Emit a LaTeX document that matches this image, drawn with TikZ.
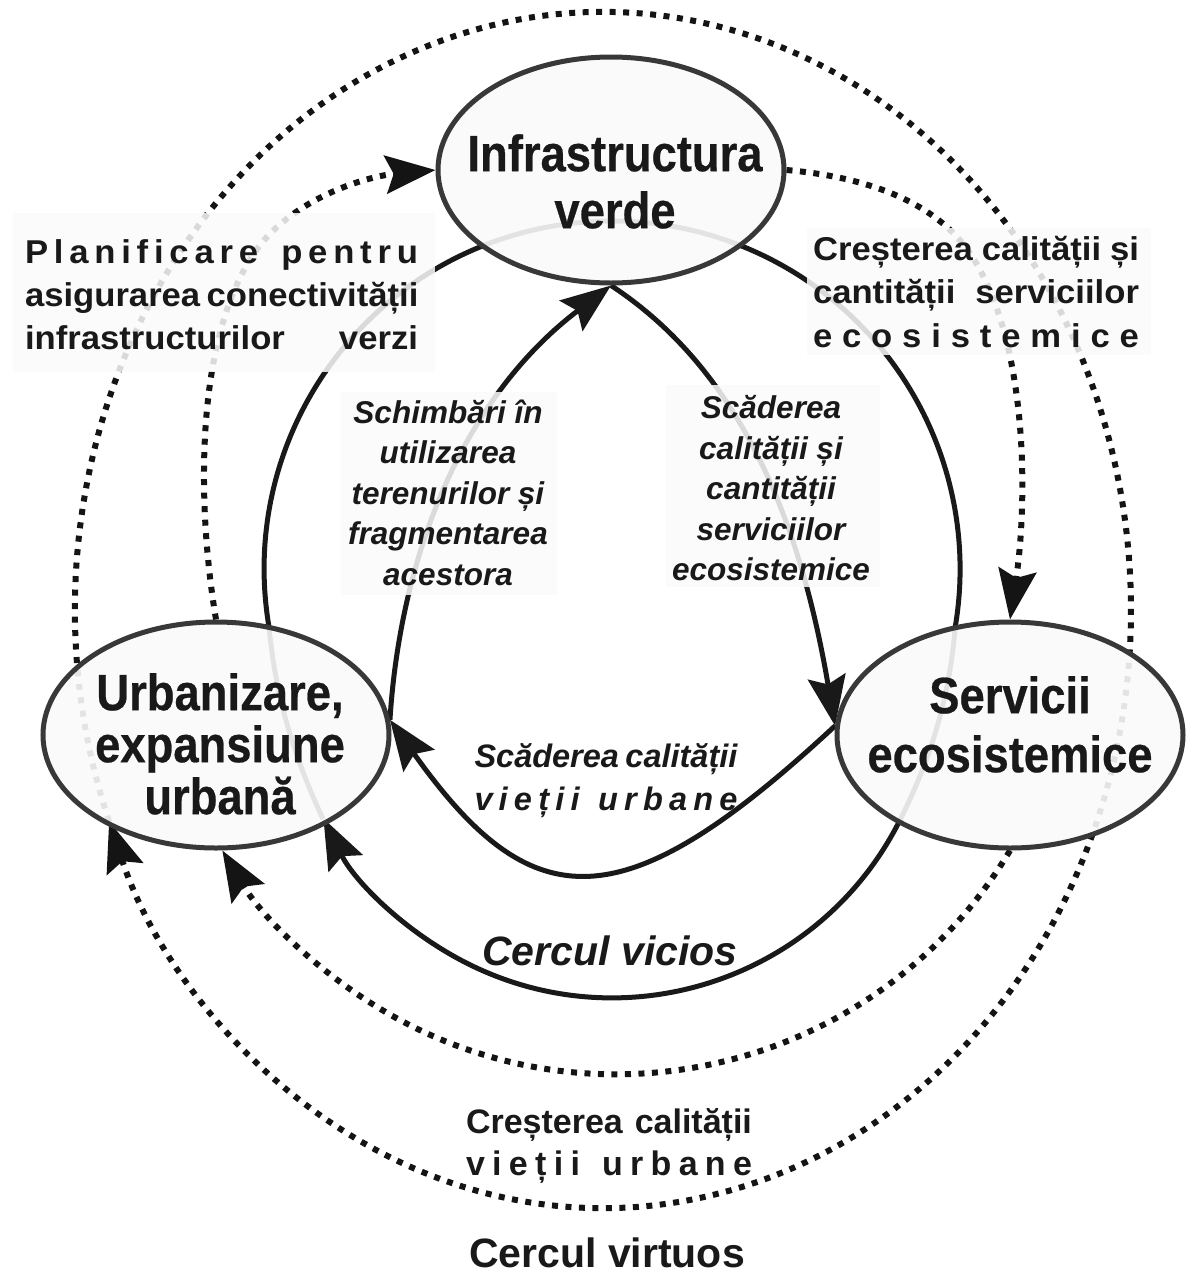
\documentclass[tikz,border=0pt]{standalone}
\usepackage{fontspec}
\setmainfont{Liberation Sans}
\newfontfamily\nodefont{Liberation Sans}[FakeStretch=0.89,FakeBold=0.5]
\newfontfamily\lblfont{Liberation Sans}[FakeStretch=1.05]
\usetikzlibrary{arrows.meta,shapes.geometric,calc}
\pgfdeclarelayer{bg}
\pgfsetlayers{bg,main}
\tikzset{
  nodeell/.style={ellipse, draw=black!78, line width=5pt, fill=black!2, fill opacity=0.9, draw opacity=1, minimum width=346pt, minimum height=226pt, inner sep=0pt},
  nodetext/.style={anchor=north, inner sep=0pt, align=center, text=black!90, font=\nodefont\bfseries\fontsize{51}{57}\selectfont},
  lblbox/.style={fill=black!2, fill opacity=0.86, draw=none, inner sep=0pt},
  lbltext/.style={anchor=north, inner sep=0pt, align=center, text=black!90, font=\lblfont\bfseries\fontsize{33}{43}\selectfont},
  itext/.style={anchor=north, inner sep=0pt, align=center, text=black!90, font=\bfseries\itshape\fontsize{31.5}{40.5}\selectfont},
  dotline/.style={line width=6pt, dash pattern=on 6pt off 7.5pt, line cap=butt, black!92},
  solidline/.style={line width=5pt, black!90},
  arr/.style={-{Stealth[length=50pt,width=38pt,inset=8pt]}},
}
\begin{document}
\begin{tikzpicture}[x=1pt,y=1pt,yscale=-1]
\path[use as bounding box] (0,0) rectangle (1197,1275);

% main nodes
\node[nodeell] (T) at (611,170) {};
\node[nodeell] (L) at (216,735) {};
\node[nodeell] (R) at (1010,735) {};

% ring reference points
\coordinate (O1) at (603,610);
\coordinate (vL) at (323,819);
\coordinate (vR) at (900,820);
\coordinate (vLt) at (269,627);

% label boxes
\node[lblbox, minimum width=422pt, minimum height=159pt] (B1) at (224,292.5) {};
\node[lblbox, minimum width=344pt, minimum height=127pt] (B2) at (979,291.5) {};
\node[lblbox, minimum width=216pt, minimum height=203pt] (B3) at (449,493.5) {};
\node[lblbox, minimum width=214pt, minimum height=202pt] (B4) at (773,486) {};

\begin{pgfonlayer}{bg}
% outer dotted ring (virtuous circle)
\draw[dotline] ($(O1)+(159.3:528 and 598)$) arc[start angle=159.3,end angle=382,x radius=528,y radius=598];
\draw[dotline,arr] ($(O1)+(22:528 and 598)$) arc[start angle=22,end angle=159.3,x radius=528,y radius=598];
% inner dotted arrows
\draw[dotline,arr] (L.north) .. controls (196,500) and (195,330) .. (260,245) .. controls (300,195) and (370,176) .. (T.west);
\draw[dotline,arr] (T.east) .. controls (854,176) and (924,195) .. (964,245) .. controls (1029,330) and (1028,500) .. (R.north);
\draw[dotline,arr] (R.south) arc[start angle=30.8,end angle=149.2,radius=458.5];
% solid ring (vicious circle)
\draw[solidline] (vL) .. controls (290,748) and (275,690) .. (vLt) arc[start angle=170.4,end angle=369.6,radius=348] .. controls (950,690) and (935,750) .. (vR);
\draw[solidline,arr] (vR) arc[start angle=26.6,end angle=153.7,radius=322];
% inner solid arrows
\draw[solidline,arr] (L.5) .. controls (400,560) and (460,400) .. (T.south);
\draw[solidline,arr] (T.south) .. controls (740,370) and (800,520) .. (R.177);
\draw[solidline,arr] (R.177) .. controls (622,924) and (532,920) .. (L.5);
\end{pgfonlayer}

% node texts
\node[nodetext] (Tt) at (615,134) {Infrastructura\\verde};
\node[nodetext, font=\nodefont\bfseries\fontsize{51}{52}\selectfont] (Lt) at (220,673) {Urbanizare,\\expansiune\\urbană};
\node[nodetext, font=\nodefont\bfseries\fontsize{51}{59}\selectfont] (Rt) at (1010,676) {Servicii\\ecosistemice};

% labels
\node[lbltext] (B1t) at (221.5,239) {\makebox[393pt][s]{P\hfill l\hfill a\hfill n\hfill i\hfill f\hfill i\hfill c\hfill a\hfill r\hfill e\hfill\hfill\hfill\hfill p\hfill e\hfill n\hfill t\hfill r\hfill u}\\\makebox[393pt][s]{asigurarea conectivității}\\\makebox[393pt][s]{infrastructurilor verzi}};
\node[lbltext, font=\lblfont\bfseries\fontsize{33}{43.5}\selectfont] (B2t) at (976,236) {\makebox[326pt][s]{Creșterea calității și}\\\makebox[326pt][s]{cantității\ \ serviciilor}\\\makebox[326pt][s]{e\hfill c\hfill o\hfill s\hfill i\hfill s\hfill t\hfill e\hfill m\hfill i\hfill c\hfill e}};
\node[itext] (B3t) at (448,399.3) {Schimbări în\\utilizarea\\terenurilor și\\fragmentarea\\acestora};
\node[itext] (B4t) at (771,395.3) {Scăderea\\calității și\\cantității\\serviciilor\\ecosistemice};
\node[itext, font=\bfseries\itshape\fontsize{32.5}{43}\selectfont] (Ut) at (606,743.5) {\makebox[263pt][s]{Scăderea calității}\\\makebox[263pt][s]{v\hfill i\hfill e\hfill ț\hfill i\hfill i\hfill\hfill\hfill u\hfill r\hfill b\hfill a\hfill n\hfill e}};
\node[lbltext, font=\bfseries\fontsize{34}{42}\selectfont] (Vt) at (609,1108.5) {\makebox[286pt][s]{Creșterea calității}\\\makebox[286pt][s]{v\hfill i\hfill e\hfill ț\hfill i\hfill i\hfill\hfill\hfill u\hfill r\hfill b\hfill a\hfill n\hfill e}};
\node[anchor=north, inner sep=0pt, text=black!90, font=\bfseries\itshape\fontsize{41}{41}\selectfont] (CV) at (610,935.5) {Cercul vicios};
\node[anchor=north, inner sep=0pt, text=black!90, font=\bfseries\fontsize{41}{41}\selectfont] (CVt) at (607,1237.5) {Cercul virtuos};
\end{tikzpicture}
\end{document}
